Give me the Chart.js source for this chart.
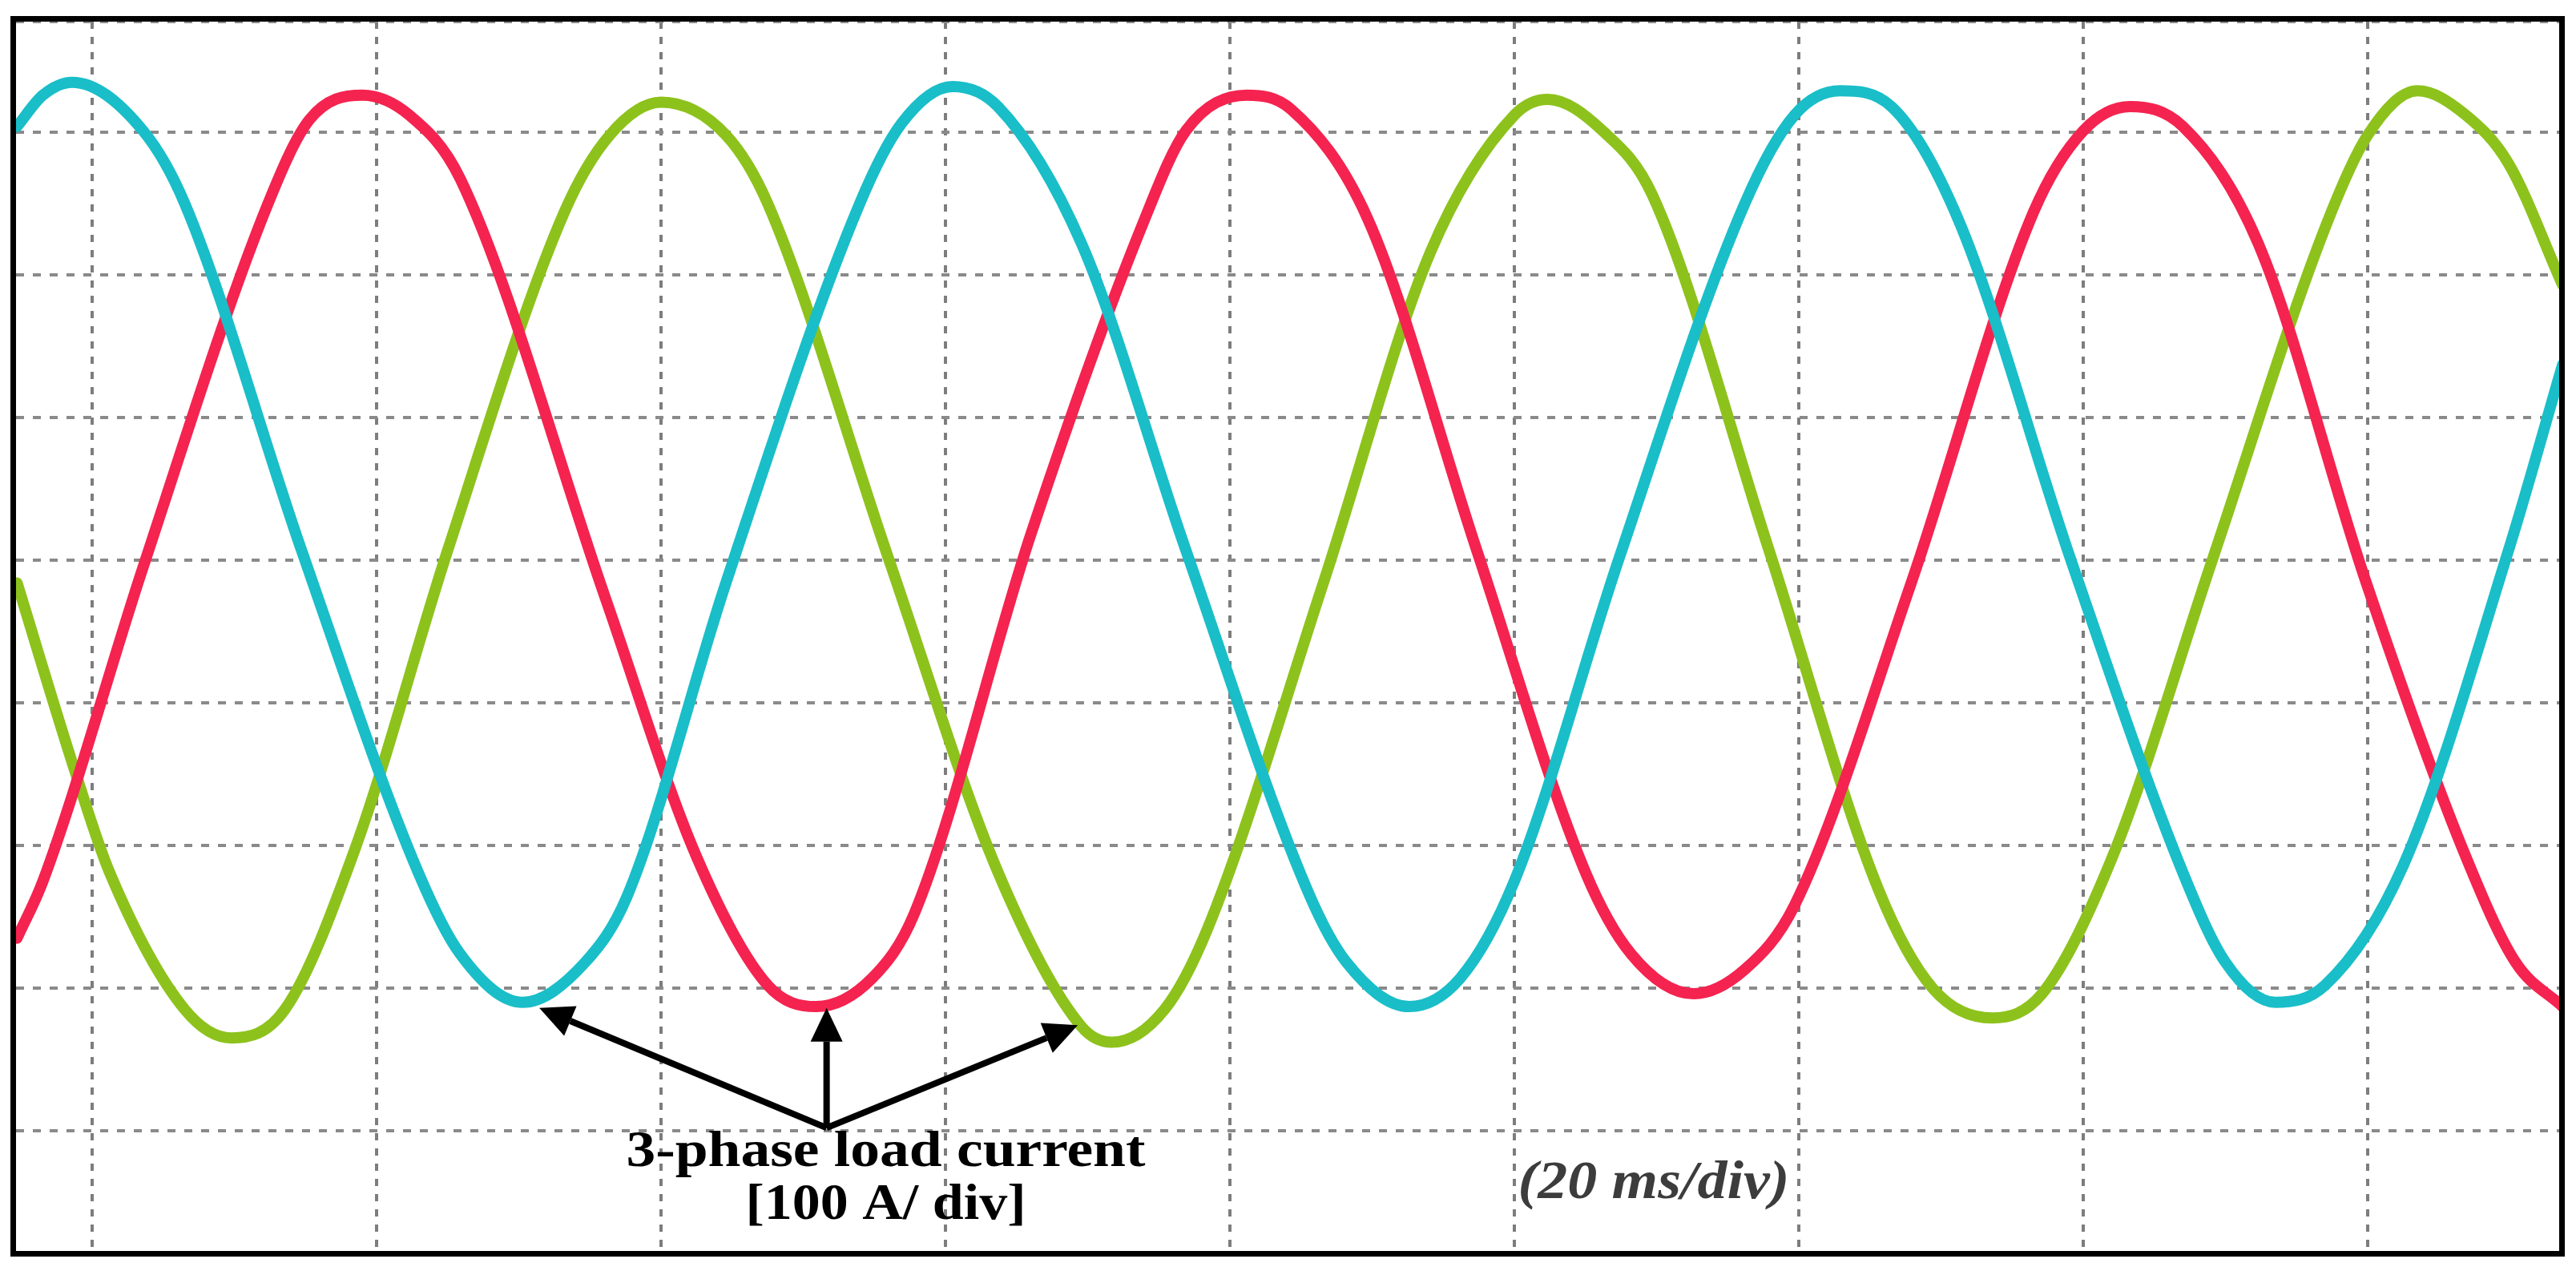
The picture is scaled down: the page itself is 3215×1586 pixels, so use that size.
<!DOCTYPE html>
<html>
<head>
<meta charset="utf-8">
<script src="https://cdn.jsdelivr.net/npm/chart.js@4.4.0/dist/chart.umd.min.js"></script>
<style>
html,body{margin:0;padding:0;background:#ffffff;}
canvas{display:block;}
</style>
</head>
<body>
<canvas id="c" width="3215" height="1586"></canvas>
<script>
// ---- Values (time in ms, current in divisions of 100 A) ----
const cyanT = [-5.28,-3.46,-1.4,3.58,6.51,14.72,22.93,25.87,30.26,34.66,37.6,44.56,53.97,56.9,60.5,63.68,69.56,76.9,85.6,88.2,92.6,96.2,100,107.35,116.2,119.7,122.9,126.5,131.2,139.1,147.0,150,153.5,157,162.5,169.9,173.7];
const cyanV = [3.04,3.26,3.35,3.01,2.50,0.07,-2.19,-2.76,-3.10,-2.82,-2.36,-0.16,2.50,3.06,3.32,3.18,2.22,0.07,-2.35,-2.82,-3.13,-2.93,-2.25,0.01,2.50,3.12,3.29,3.18,2.39,0.01,-2.19,-2.82,-3.10,-2.98,-2.14,0.07,1.37];

const redT = [-5.28,-3.46,3.58,12.37,15.3,19.0,22.3,25.9,36.1,42.5,47.5,50.9,54.85,57.8,66.0,74.0,76.9,81.2,84.3,89.7,97.35,105,108.2,112.6,116.2,119.7,127.9,136.5,140,143.3,147.0,152.3,159.9,166.9,170.4,173.7];
const redV = [-2.65,-2.25,-0.05,2.50,3.09,3.26,3.12,2.67,-0.27,-2.08,-2.98,-3.13,-2.93,-2.48,0.18,2.39,3.01,3.26,3.16,2.39,0.07,-2.19,-2.76,-3.04,-2.87,-2.42,-0.16,2.44,3.01,3.18,3.04,2.22,-0.16,-2.08,-2.82,-3.13];

const greenT = [-5.28,-1.11,1.23,6.51,9.8,13.55,18.5,25.0,33.2,36.4,40.0,44.56,47.5,56.0,63.7,69.56,71.7,75.4,78.4,86.6,94.1,100,102.35,106.2,109.7,117.9,125.6,129.4,133.6,137.1,142.05,149.1,157.0,160,163.5,166.9,169.9,173.7];
const greenV = [-0.16,-1.51,-2.19,-3.15,-3.35,-3.15,-2.02,0.07,2.44,2.98,3.21,2.98,2.50,0.01,-2.19,-3.27,-3.38,-3.15,-2.59,-0.15,2.16,3.12,3.23,3.01,2.56,0.07,-2.31,-3.00,-3.21,-3.04,-2.08,0.01,2.33,2.98,3.29,3.12,2.78,1.93];

// grid positions (20 ms/div horizontally, 100 A/div vertically)
const xTicks = [0,20,40,60,80,100,120,140,160];
const yTicks = [-4,-3,-2,-1,0,1,2,3,3.775];

const toPoints = (ts, vs) => ts.map((t, i) => ({x: t, y: vs[i]}));

// Annotation anchors in data units
const arrowOrigin = {x: 51.64, y: -3.98};
const arrowTips = [{x: 31.44, y: -3.14}, {x: 51.64, y: -3.14}, {x: 69.3, y: -3.26}];
const labelLines = [
  {text: '3-phase load current', x: 55.8, y: -4.25, font: 'bold 64px "Liberation Serif"', width: 648, color: '#000000'},
  {text: '[100 A/ div]', x: 55.8, y: -4.62, font: 'bold 64px "Liberation Serif"', width: 350, color: '#000000'},
  {text: '(20 ms/div)', x: 109.8, y: -4.47, font: 'italic bold 68px "Liberation Serif"', width: 339, color: '#3c3c3c'}
];

const framePlugin = {
  id: 'frame',
  afterDatasetsDraw(chart) {
    const ctx = chart.ctx;
    const xs = chart.scales.x, ys = chart.scales.y;
    const a = chart.chartArea;
    ctx.save();
    // arrows
    ctx.strokeStyle = '#000'; ctx.fillStyle = '#000'; ctx.lineWidth = 8; ctx.lineCap = 'butt';
    const ox = xs.getPixelForValue(arrowOrigin.x), oy = ys.getPixelForValue(arrowOrigin.y);
    arrowTips.forEach(tp => {
      const tx = xs.getPixelForValue(tp.x), ty = ys.getPixelForValue(tp.y);
      const ang = Math.atan2(ty - oy, tx - ox);
      const hl = 42, hw = 20;
      const bx = tx - hl * Math.cos(ang), by = ty - hl * Math.sin(ang);
      ctx.beginPath(); ctx.moveTo(ox, oy); ctx.lineTo(bx, by); ctx.stroke();
      ctx.beginPath();
      ctx.moveTo(tx, ty);
      ctx.lineTo(bx + hw * Math.sin(ang), by - hw * Math.cos(ang));
      ctx.lineTo(bx - hw * Math.sin(ang), by + hw * Math.cos(ang));
      ctx.closePath(); ctx.fill();
    });
    // labels
    labelLines.forEach(l => {
      ctx.font = l.font;
      const w = ctx.measureText(l.text).width;
      ctx.save();
      ctx.translate(xs.getPixelForValue(l.x), ys.getPixelForValue(l.y));
      ctx.scale(l.width / w, 1);
      ctx.textAlign = 'center'; ctx.textBaseline = 'alphabetic';
      ctx.fillStyle = l.color;
      ctx.fillText(l.text, 0, 0);
      ctx.restore();
    });
    // frame
    ctx.strokeStyle = '#000'; ctx.lineWidth = 7;
    ctx.strokeRect(a.left - 3.5, a.top - 3.5, a.right - a.left + 7, a.bottom - a.top + 7);
    ctx.restore();
  }
};

const mk = (label, ts, vs, color) => ({
  label, data: toPoints(ts, vs), borderColor: color, backgroundColor: color,
  borderWidth: 14, pointRadius: 0, cubicInterpolationMode: 'monotone', fill: false,
  borderJoinStyle: 'round', borderCapStyle: 'round'
});

new Chart(document.getElementById('c'), {
  type: 'line',
  data: {
    datasets: [
      mk('Phase C', cyanT, cyanV, '#19BEC8'),
      mk('Phase A', redT, redV, '#F5234F'),
      mk('Phase B', greenT, greenV, '#8DC21C')
    ]
  },
  options: {
    responsive: false,
    animation: false,
    events: [],
    layout: {padding: {left: 20, top: 27, right: 21, bottom: 25}},
    plugins: {legend: {display: false}, tooltip: {enabled: false}},
    scales: {
      x: {
        type: 'linear', min: -5.352, max: 173.46,
        afterBuildTicks: s => { s.ticks = xTicks.map(v => ({value: v})); },
        ticks: {display: false},
        grid: {color: '#7d7d7d', lineWidth: 4, drawTicks: false, borderDash: [9, 10]},
        border: {display: false, dash: [9, 10]}
      },
      y: {
        type: 'linear', min: -4.843, max: 3.775,
        afterBuildTicks: s => { s.ticks = yTicks.map(v => ({value: v})); },
        ticks: {display: false},
        grid: {color: '#8a8a8a', lineWidth: 4, drawTicks: false, borderDash: [10, 11]},
        border: {display: false, dash: [10, 11]}
      }
    }
  },
  plugins: [framePlugin]
});
</script>
</body>
</html>
